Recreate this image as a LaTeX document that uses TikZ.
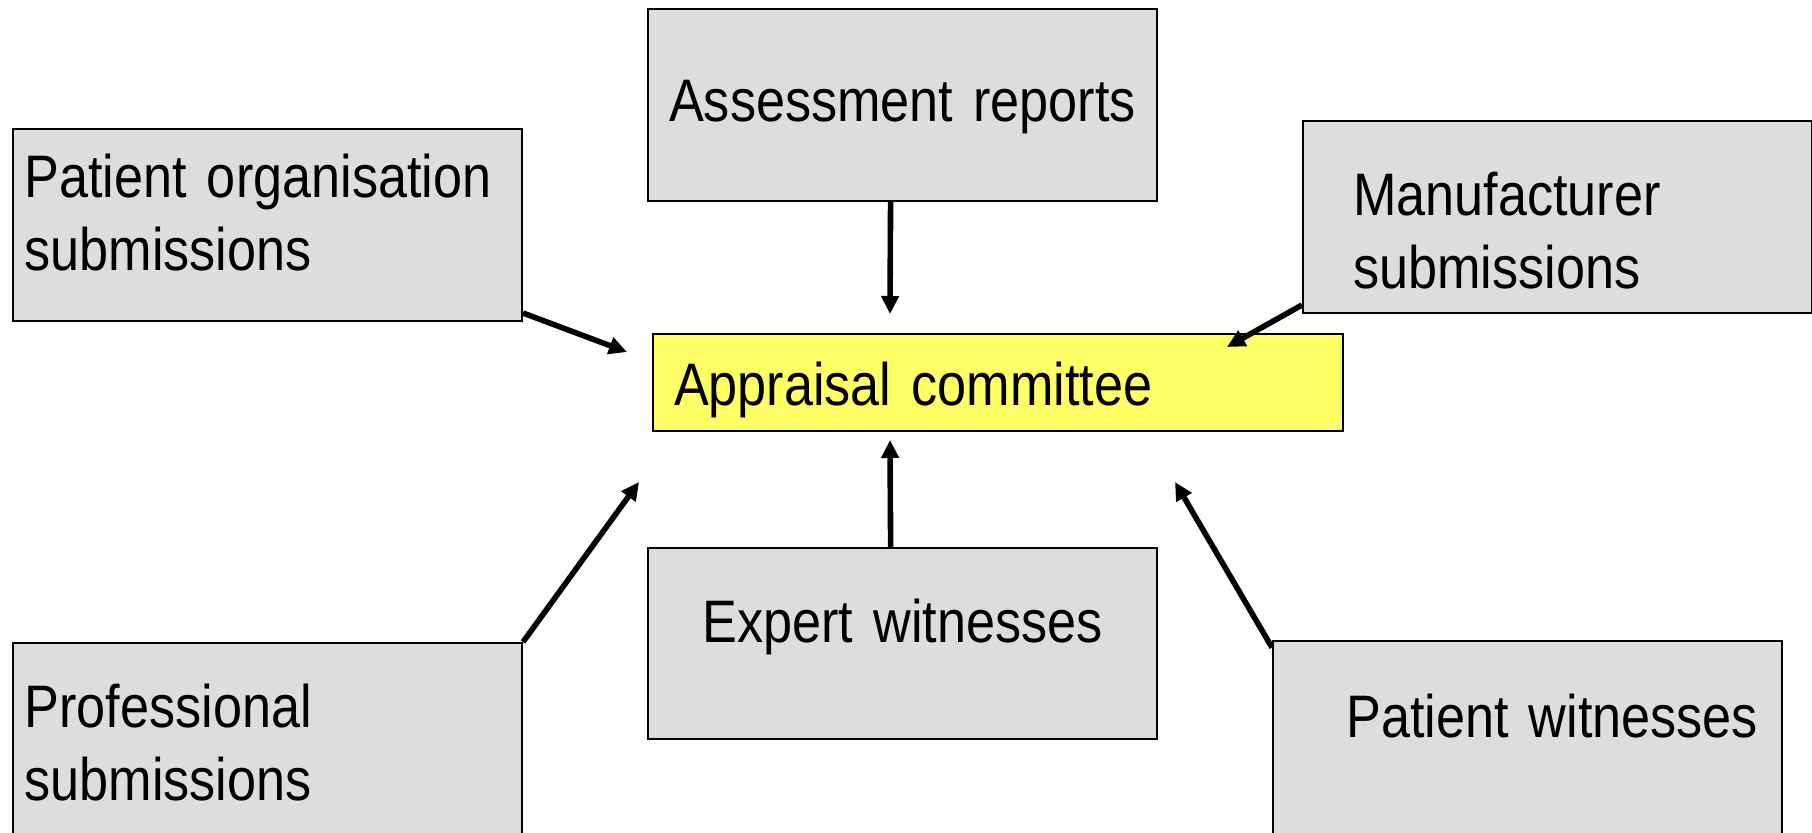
\documentclass[tikz,border=0pt]{standalone}
\usepackage{fontspec}
\setmainfont[FakeStretch=0.87]{Liberation Sans}
\usepackage{tikz}
\usetikzlibrary{positioning,arrows.meta}
\definecolor{boxGray}{HTML}{DDDDDD}
\definecolor{paleYellow}{HTML}{FFFF66}
\newcommand{\boxfont}{\fontsize{30pt}{36.5pt}\selectfont\fontdimen2\font=6pt\relax}
\tikzset{
  source/.style={rectangle, draw=black, line width=1pt, fill=boxGray, inner ysep=0pt,
                 minimum width=254.5pt, font=\boxfont},
  committee/.style={rectangle, draw=black, line width=1pt, fill=paleYellow, inner ysep=0pt,
                    minimum width=345pt, font=\boxfont},
  feed/.style={-{Triangle[length=9pt, width=8.5pt]}, line width=2.8pt, draw=black}
}

\begin{document}
\begin{tikzpicture}[x=0.5pt, y=-0.5pt]
\useasboundingbox (0,0) rectangle (1812,832);
\clip (0,0) rectangle (1812,832);

\node[source, anchor=north west, inner xsep=0pt, text width=254.5pt, align=center,
      text height=56pt, text depth=40pt] (assess) at (647,8) {Assessment reports};
\node[source, anchor=north west, inner xsep=5.5pt, text width=243pt, align=left,
      text height=34pt, text depth=62pt] (porg) at (12,128) {Patient organisation\\submissions};
\node[source, anchor=north west, inner xsep=25pt, text width=204.5pt, align=left,
      text height=47pt, text depth=49pt] (manu) at (1302,120) {Manufacturer\\submissions};
\node[committee, anchor=north west, inner xsep=10.5pt, text width=324pt, align=left,
      text height=35.5pt, text depth=13pt] (appr) at (652,333) {Appraisal committee};
\node[source, anchor=north west, inner xsep=0pt, text width=254.5pt, align=center,
      text height=47pt, text depth=48.5pt] (expert) at (647,547) {Expert witnesses};
\node[source, anchor=north west, inner xsep=5.5pt, text width=243pt, align=left,
      text height=42pt, text depth=72pt] (prof) at (12,642) {Professional\\submissions};
\node[source, anchor=north west, inner xsep=12pt, text width=230.5pt, align=right,
      text height=48pt, text depth=67pt] (pwit) at (1272,640) {Patient witnesses};

% free arrow ends around the committee box
\coordinate (tipassess) at (890,314);
\coordinate (tipporg) at (627,352);
\coordinate (tipmanu) at (1227,347);
\coordinate (tipexpert) at (890,440);
\coordinate (tipprof) at (639,482);
\coordinate (tippwit) at (1175,482);

\draw[feed] (assess.263) -- (tipassess);
\draw[feed] (porg.341) -- (tipporg);
\draw[feed] (manu.199) -- (tipmanu);
\draw[feed] (expert.97) -- (tipexpert);
\draw[feed] (prof.north east) -- (tipprof);
\draw[feed] (pwit.157) -- (tippwit);
\end{tikzpicture}
\end{document}
